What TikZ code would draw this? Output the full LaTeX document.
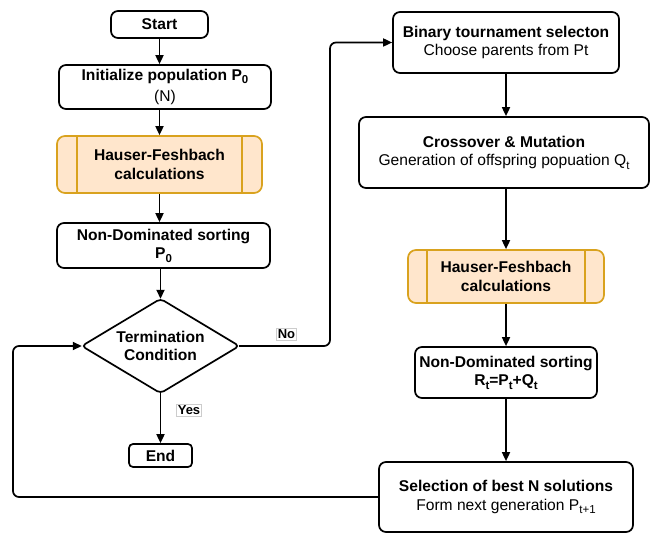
\documentclass[tikz,border=0pt]{standalone}
\usepackage{fontspec}
\setmainfont{Liberation Sans}
\usetikzlibrary{arrows.meta}
\definecolor{hffill}{HTML}{FFE6CC}
\definecolor{hfdraw}{HTML}{D9A21E}
\newcommand{\sbs}[1]{\raisebox{-0.22em}{\fontsize{11.5}{12}\selectfont #1}}
\begin{document}
\begin{tikzpicture}[x=1pt,y=-1pt,
  font=\fontsize{15.6}{18.5}\selectfont,
  box/.style={draw=black, line width=1.7pt, rounded corners=7pt, align=center, inner sep=0pt, fill=white},
  hfbox/.style={draw=hfdraw, line width=1.7pt, rounded corners=8pt, align=center, inner sep=0pt, fill=hffill},
  arr/.style={line width=1.7pt, -{Triangle[length=9pt,width=8pt]}},
  lbl/.style={draw=black!20, line width=0.6pt, fill=white, inner sep=1.3pt, font=\fontsize{13}{14}\selectfont\bfseries}
]
\useasboundingbox (0,0) rectangle (652,534);

% left column
\node[box, minimum width=97pt, minimum height=27pt] (start) at (159.5,24.5) {\textbf{Start}};
\node[box, minimum width=212pt, minimum height=44pt] (init) at (165,87) {\textbf{Initialize population P\sbs{0}}\\[3pt](N)};
\node[hfbox, minimum width=205pt, minimum height=57pt] (hf1) at (159.5,164.5) {\textbf{Hauser-Feshbach}\\\textbf{calculations}};
\draw[hfdraw, line width=1.7pt] ([xshift=21pt]hf1.north west) -- ([xshift=21pt]hf1.south west);
\draw[hfdraw, line width=1.7pt] ([xshift=-21pt]hf1.north east) -- ([xshift=-21pt]hf1.south east);
\node[box, minimum width=213pt, minimum height=45pt] (nd1) at (163.5,245.5) {\textbf{Non-Dominated sorting}\\\textbf{P\sbs{0}}};
\node[minimum width=157pt, minimum height=94pt, inner sep=0pt, align=center] (cond) at (160.5,346) {\textbf{Termination}\\\textbf{Condition}};
\draw[line width=1.7pt, rounded corners=4pt] (cond.west) -- (cond.north) -- (cond.east) -- (cond.south) -- cycle;
\node[box, rounded corners=4pt, minimum width=63pt, minimum height=23pt] (end) at (160.5,455.5) {\textbf{End}};

% right column
\node[box, minimum width=226pt, minimum height=61pt] (bin) at (506,42.5) {\textbf{Binary tournament selecton}\\Choose parents from Pt};
\node[box, minimum width=290pt, minimum height=71pt] (cross) at (504,152.5) {\textbf{Crossover \& Mutation}\\Generation of offspring popuation Q\sbs{t}};
\node[hfbox, minimum width=196pt, minimum height=53pt] (hf2) at (506,276.5) {\textbf{Hauser-Feshbach}\\\textbf{calculations}};
\draw[hfdraw, line width=1.7pt] ([xshift=20pt]hf2.north west) -- ([xshift=20pt]hf2.south west);
\draw[hfdraw, line width=1.7pt] ([xshift=-20pt]hf2.north east) -- ([xshift=-20pt]hf2.south east);
\node[box, minimum width=182pt, minimum height=51pt] (nd2) at (506,372.5) {\textbf{Non-Dominated sorting}\\\textbf{R\sbs{t}=P\sbs{t}+Q\sbs{t}}};
\node[box, minimum width=254pt, minimum height=70pt] (sel) at (506,497) {\textbf{Selection of best N solutions}\\Form next generation P\sbs{t+1}};

\coordinate (nocorner) at (330,346);
\coordinate (loopcorner) at (13,497);

% connectors
\draw[arr] (start.south) -- (start.south |- init.north);
\draw[arr] (init.south -| start.south) -- (hf1.north);
\draw[arr] (hf1.south) -- (hf1.south |- nd1.north);
\draw[arr] (nd1.south -| cond.north) -- (cond.north);
\draw[arr] (cond.south) -- (end.north);
\draw[arr, rounded corners=6pt] (cond.east) -- (nocorner) |- (bin.west);
\draw[arr] (bin.south) -- (bin.south |- cross.north);
\draw[arr] (cross.south -| bin.south) -- (hf2.north);
\draw[arr] (hf2.south) -- (nd2.north);
\draw[arr] (nd2.south) -- (sel.north);
\draw[arr, rounded corners=6pt] (sel.west) -- (loopcorner) |- (cond.west);

% labels
\node[lbl] (nolbl) at (286.5,334) {No};
\node[lbl] (yeslbl) at (189,410) {Yes};
\end{tikzpicture}
\end{document}
